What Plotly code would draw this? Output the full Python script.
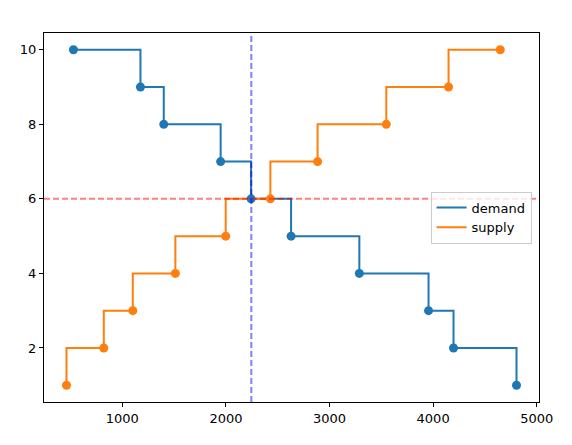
import plotly.graph_objects as go

# Demand schedule (quantity, price)
demand_q = [528, 1175, 1400, 1949, 2243, 2629, 3288, 3956, 4197, 4805]
demand_p = [10, 9, 8, 7, 6, 5, 4, 3, 2, 1]

# Supply schedule (quantity, price)
supply_q = [461, 821, 1101, 1512, 1998, 2429, 2885, 3548, 4149, 4648]
supply_p = [1, 2, 3, 4, 5, 6, 7, 8, 9, 10]

# Equilibrium
eq_price = 6
eq_quantity = 2245

x_ticks = [1000, 2000, 3000, 4000, 5000]
y_ticks = [2, 4, 6, 8, 10]

blue = "#1f77b4"
orange = "#ff7f0e"

fig = go.Figure()

fig.add_trace(go.Scatter(x=demand_q, y=demand_p, mode="lines", line=dict(shape="hv", color=blue, width=2),
                         name="demand", legendgroup="d"))
fig.add_trace(go.Scatter(x=supply_q, y=supply_p, mode="lines", line=dict(shape="vh", color=orange, width=2),
                         name="supply", legendgroup="s"))
fig.add_trace(go.Scatter(x=demand_q, y=demand_p, mode="markers", marker=dict(color=blue, size=9),
                         showlegend=False, legendgroup="d", hoverinfo="skip"))
fig.add_trace(go.Scatter(x=supply_q, y=supply_p, mode="markers", marker=dict(color=orange, size=9),
                         showlegend=False, legendgroup="s", hoverinfo="skip"))

fig.add_hline(y=eq_price, line=dict(color="rgba(255,0,0,0.5)", width=2, dash="6px,3px"), layer="above")
fig.add_vline(x=eq_quantity, line=dict(color="rgba(0,0,255,0.5)", width=2, dash="6px,3px"), layer="above")

xmin, xmax = min(supply_q + demand_q), max(supply_q + demand_q)
xpad = (xmax - xmin) * 0.05
ypad = (10 - 1) * 0.05

axis_common = dict(showgrid=False, zeroline=False, showline=True, mirror=True, linecolor="black", linewidth=1,
                   ticks="outside", ticklen=4, tickwidth=1, tickcolor="black",
                   tickfont=dict(family="DejaVu Sans", size=13, color="black"))

fig.update_layout(
    width=572, height=445,
    margin=dict(l=44, r=33, t=33, b=43),
    paper_bgcolor="white", plot_bgcolor="white",
    font=dict(family="DejaVu Sans", size=13, color="black"),
    xaxis=dict(range=[xmin - xpad, xmax + xpad], tickvals=x_ticks, **axis_common),
    yaxis=dict(range=[1 - ypad, 10 + ypad], tickvals=y_ticks, **axis_common),
    legend=dict(x=0.985, y=0.5, xanchor="right", yanchor="middle", bgcolor="rgba(255,255,255,0.8)",
                bordercolor="#cccccc", borderwidth=1, font=dict(size=13), tracegroupgap=0),
    showlegend=True,
)

fig.write_html("out.html")
